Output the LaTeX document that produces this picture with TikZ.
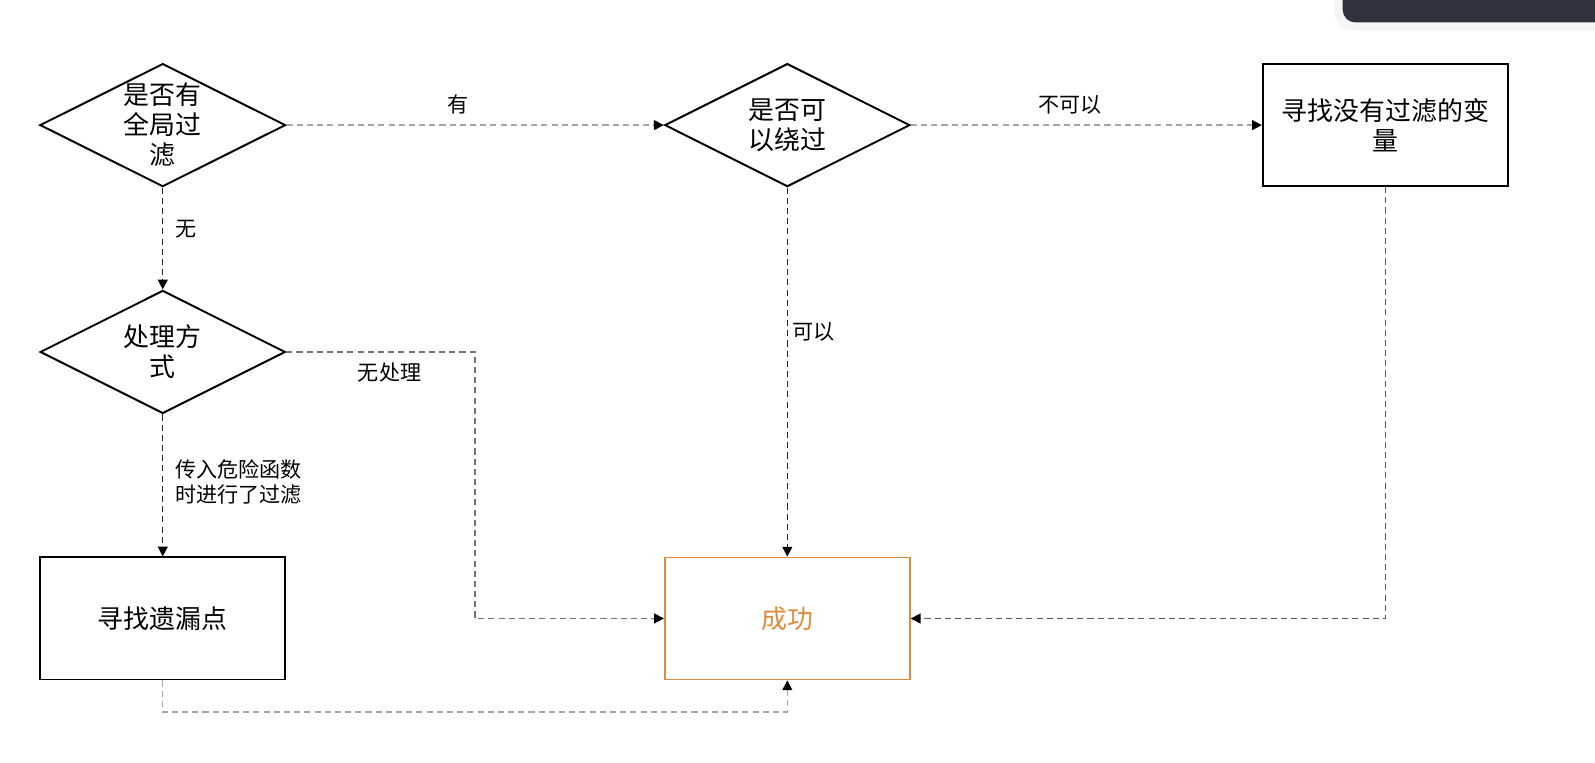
\documentclass[tikz,border=0pt]{standalone}
\usepackage{fontspec}
\setmainfont{Noto Sans CJK SC}
\usetikzlibrary{shapes.geometric,arrows.meta}
\definecolor{okorange}{HTML}{E08A3C}
\definecolor{toastbg}{HTML}{2E323D}
\begin{document}
\begin{tikzpicture}[x=0.02cm,y=-0.02cm,
  decision/.style={diamond,draw,line width=1.1pt,minimum width=4.82cm,minimum height=2.42cm,inner sep=0pt,aspect=2,align=center,font=\fontsize{14.5}{16.8}\selectfont},
  stepbox/.style={rectangle,draw,line width=1.1pt,minimum width=4.82cm,minimum height=2.4cm,align=center,font=\fontsize{14.5}{16.8}\selectfont},
  link/.style={dash pattern=on 3.4pt off 2.3pt,line width=0.8pt,draw=black!85,-{Triangle[length=5.5pt,width=5.5pt,color=black]}},
  faint/.style={link,draw=black!35},
  tag/.style={font=\fontsize{11.8}{14.2}\selectfont,align=left}]
\useasboundingbox (0,0) rectangle (1568,750);
\begin{scope}[overlay]
\fill[black!4,rounded corners=10pt] (1312,-20) rectangle (1625,30);
\fill[toastbg,rounded corners=7pt] (1320,-20) rectangle (1620,22);
\end{scope}
\node[decision] (global) at (160,123) {是否有\\全局过\\滤};
\node[decision] (method) at (160,346) {处理方\\式};
\node[decision] (bypass) at (774,123) {是否可\\以绕过};
\node[stepbox] (unfiltered) at (1362,123) {寻找没有过滤的变\\量};
\node[stepbox] (missed) at (160,608) {寻找遗漏点};
\node[stepbox,draw=okorange,line width=0.9pt,text=okorange] (success) at (774,608) {成功};
\coordinate (nohandle) at (467,347);
\coordinate (bottomrun) at (160,700);
\draw[faint] (global.east) -- (bypass.west);
\draw[faint] (bypass.east) -- (unfiltered.west);
\draw[link] (global.south) -- (method.north);
\draw[link] (bypass.south) -- (success.north);
\draw[link] (method.south) -- (missed.north);
\draw[link,draw=black!55] (method.east) -| (nohandle |- success.west) -- (success.west);
\draw[link,draw=black!65] (unfiltered.south) |- (success.east);
\draw[faint] (missed.south) |- (success.south |- bottomrun) -- (success.south);
\node[tag] (yes) at (450,103) {有};
\node[tag] (cannot) at (1052,103) {不可以};
\node[tag] (no) at (183,225) {无};
\node[tag] (can) at (800,326) {可以};
\node[tag] (nofilter) at (383,366) {无处理};
\node[tag,anchor=west] (sinkfilter) at (166,474) {传入危险函数\\时进行了过滤};
\end{tikzpicture}
\end{document}
